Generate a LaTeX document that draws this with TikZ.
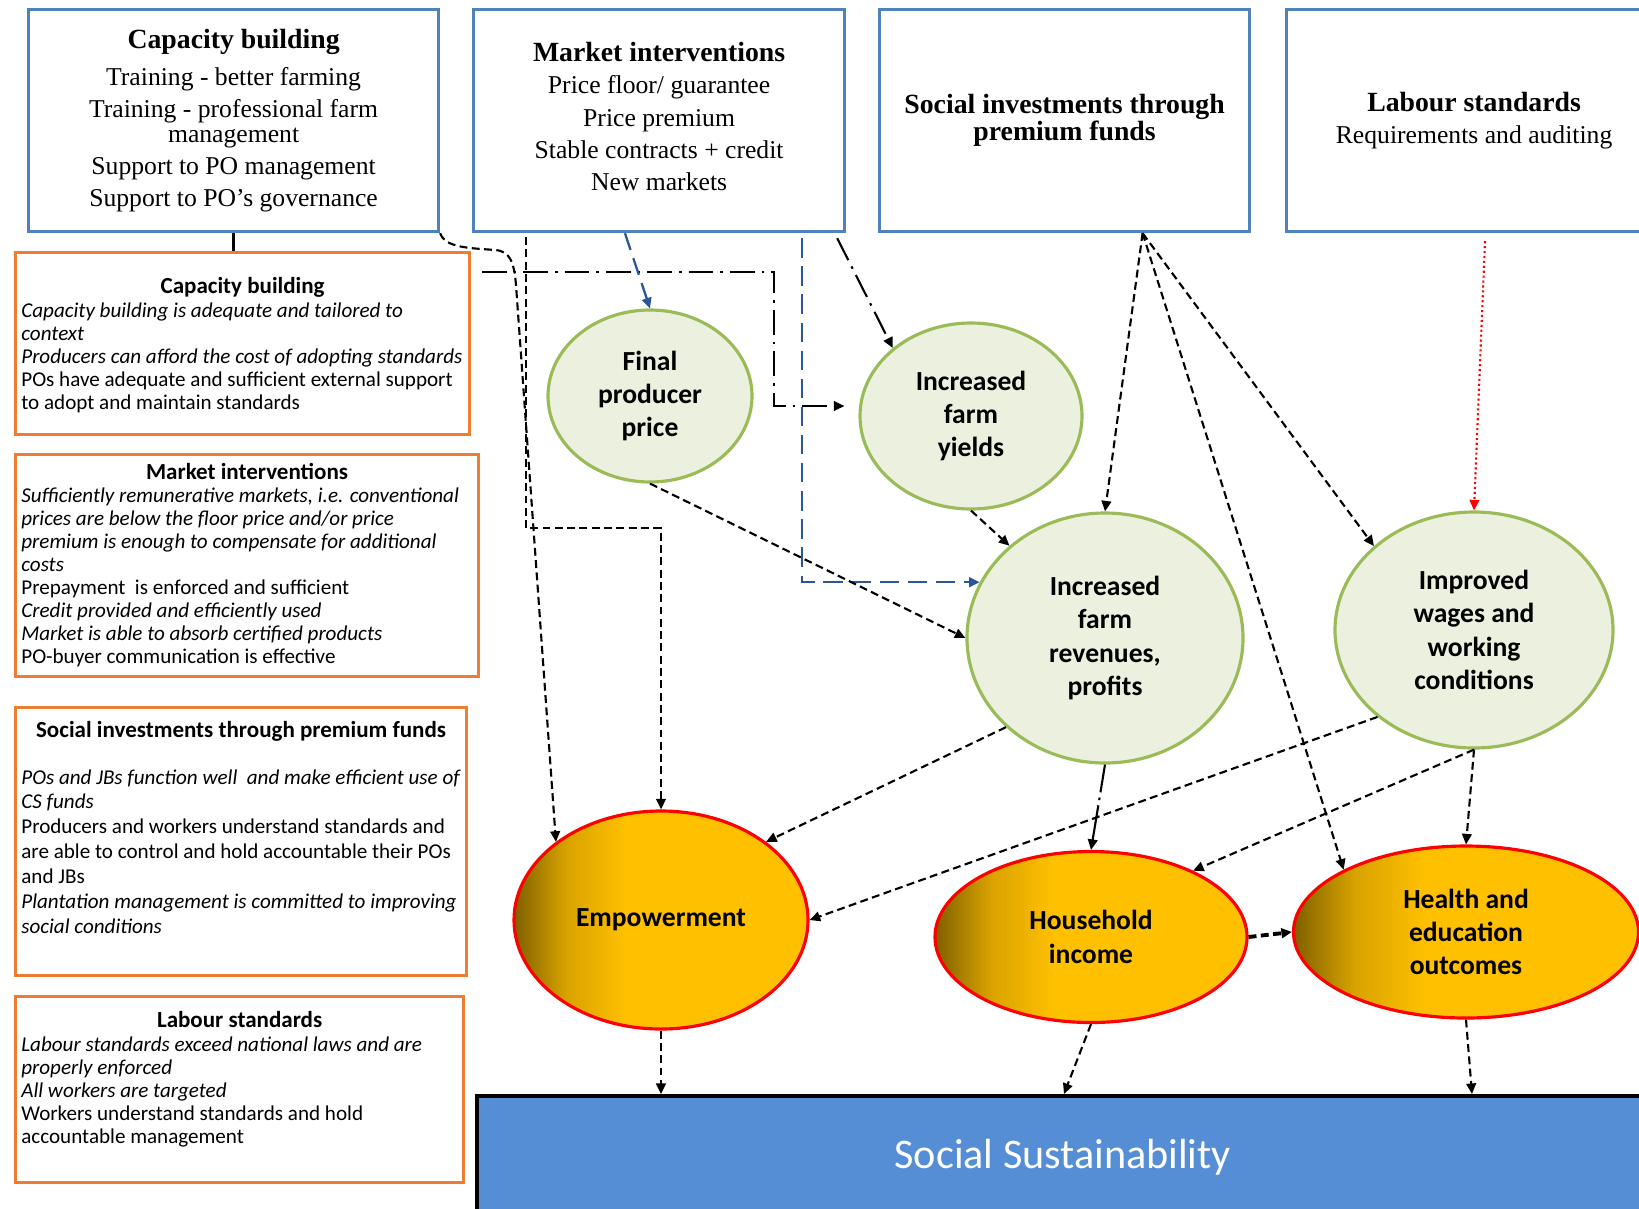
\documentclass[tikz,border=0pt]{standalone}
\usepackage{fontspec}
\setmainfont{Liberation Serif}
\newfontfamily\calib{Carlito}
\usetikzlibrary{positioning,arrows.meta,calc,shapes.geometric}
\definecolor{boxblue}{HTML}{4F81BD}
\definecolor{asmorange}{HTML}{ED7D31}
\definecolor{leafline}{HTML}{9BBB59}
\definecolor{leaffill}{HTML}{EBF1DE}
\definecolor{gold}{HTML}{FFC000}
\definecolor{golddark}{HTML}{7F6000}
\definecolor{goldmid}{HTML}{D9A300}
\definecolor{sustblue}{HTML}{558ED5}
\definecolor{linkblue}{HTML}{2B579A}
\pgfdeclarehorizontalshading{goldshade}{100bp}{color(0bp)=(golddark); color(25bp)=(golddark); color(34bp)=(goldmid); color(44bp)=(gold); color(100bp)=(gold)}
\newcommand\headfont{\bfseries\fontsize{15.8}{13.7}\selectfont}

\begin{document}
\begin{tikzpicture}[x=0.2mm,y=-0.2mm,
  topbox/.style={draw=boxblue, line width=1.8pt, fill=white, anchor=north west, align=center,
                 inner sep=0pt, minimum height=44.4mm, font=\fontsize{14.6}{13.7}\selectfont},
  asm/.style={draw=asmorange, line width=1.8pt, fill=white, anchor=north west, inner sep=0pt},
  asmtitle/.style={inner sep=0pt, text height=9.5pt, text depth=2.7pt,
                   font=\calib\bfseries\fontsize{13.1}{15}\selectfont},
  asmbody/.style={anchor=north west, align=left, inner sep=0pt,
                  font=\calib\fontsize{12}{13.1}\selectfont},
  leaf/.style={ellipse, draw=leafline, fill=leaffill, line width=1.8pt, inner sep=0pt, align=center,
               font=\calib\bfseries\fontsize{15.7}{19}\selectfont},
  fruit/.style={ellipse, draw=red, line width=1.8pt, shade, shading=goldshade, inner sep=0pt,
                align=center, font=\calib\bfseries\fontsize{15.7}{19}\selectfont},
  tip/.style={-{Triangle[length=6pt,width=5.5pt]}},
  dsh/.style={tip, line width=1.2pt, dash pattern=on 4.5pt off 2.5pt},
  dshdot/.style={tip, line width=1.2pt, dash pattern=on 14pt off 4pt on 1.5pt off 4pt},
  bluedsh/.style={tip, draw=linkblue, line width=1.3pt, dash pattern=on 10pt off 5pt},
  reddot/.style={tip, draw=red, line width=1.2pt, dash pattern=on 1.2pt off 1.6pt},
]
  \useasboundingbox (0,0) rectangle (1639,1208);
  \clip (0,0) rectangle (1639,1208);

  % Interventions
  \node[topbox, minimum width=82mm] (CB) at (27,8)
    {{\headfont Capacity building}\\[6.5pt] Training - better farming\\[4.7pt]
     Training - professional farm\\ management\\[4.7pt] Support to PO management\\[4.7pt]
     Support to PO’s governance};
  \node[topbox, minimum width=74.2mm] (MI) at (472,8)
    {{\headfont Market interventions}\\[4.6pt] Price floor/ guarantee\\[4.6pt] Price premium\\[4.6pt]
     Stable contracts + credit\\[4.6pt] New markets\\[-8.9pt]};
  \node[topbox, minimum width=74mm] (SI) at (878,8)
    {{\headfont Social investments through}\\ {\headfont premium funds}};
  \node[topbox, minimum width=75mm] (LS) at (1285,8)
    {{\headfont Labour standards}\\[5pt] Requirements and auditing};

  % Assumptions
  \node[asm, minimum width=90.8mm, minimum height=36.4mm] (aCB) at (14,251) {};
  \node[asmtitle] (aCBt) at ($(aCB.north)+(0,37)$) {Capacity building};
  \node[asmbody] (aCBb) at ($(aCB.north west)+(7,51)$)
    {\textit{Capacity building is adequate and tailored to}\\ \textit{context}\\
     \textit{Producers can afford the cost of adopting standards}\\
     POs have adequate and sufficient external support\\ to adopt and maintain standards};

  \node[asm, minimum width=92.6mm, minimum height=44.4mm] (aMI) at (14,453) {};
  \node[asmtitle] (aMIt) at ($(aMI.north)+(0,21)$) {Market interventions};
  \node[asmbody] (aMIb) at ($(aMI.north west)+(7,34)$)
    {\textit{Sufficiently remunerative markets, i.e. conventional}\\
     \textit{prices are below the floor price and/or price}\\
     \textit{premium is enough to compensate for additional}\\ \textit{costs}\\
     Prepayment\ \ is enforced and sufficient\\ \textit{Credit provided and efficiently used}\\
     \textit{Market is able to absorb certified products}\\ PO-buyer communication is effective};

  \node[asm, minimum width=90.2mm, minimum height=53.6mm] (aSI) at (14,706) {};
  \node[asmtitle] (aSIt) at ($(aSI.north)+(0,26)$) {Social investments through premium funds};
  \node[asmbody, font=\calib\fontsize{12}{14.2}\selectfont] (aSIb) at ($(aSI.north west)+(7,63)$)
    {\textit{POs and JBs function well\ \ and make efficient use of}\\ \textit{CS funds}\\
     Producers and workers understand standards and\\
     are able to control and hold accountable their POs\\ and JBs\\
     \textit{Plantation management is committed to improving}\\ \textit{social conditions}};

  \node[asm, minimum width=89.6mm, minimum height=37.2mm] (aLS) at (14,995) {};
  \node[asmtitle] (aLSt) at ($(aLS.north)+(0,27)$) {Labour standards};
  \node[asmbody] (aLSb) at ($(aLS.north west)+(7,41)$)
    {\textit{Labour standards exceed national laws and are}\\ \textit{properly enforced}\\
     \textit{All workers are targeted}\\ Workers understand standards and hold\\
     accountable management};

  % Intermediate outcomes
  \node[leaf, minimum width=40.8mm, minimum height=34.4mm] (FPP) at (650,396) {Final\\producer\\price};
  \node[leaf, minimum width=44.4mm, minimum height=37.2mm] (IFY) at (971,416) {Increased\\farm\\yields};
  \node[leaf, minimum width=55.2mm, minimum height=50mm] (IFR) at (1105,638)
    {Increased\\farm\\revenues,\\profits};
  \node[leaf, minimum width=55.6mm, minimum height=47.2mm] (IWC) at (1474,630)
    {Improved\\wages and\\working\\conditions};

  % Outcomes
  \node[fruit, minimum width=58.8mm, minimum height=43.6mm] (EMP) at (661,920) {Empowerment};
  \node[fruit, minimum width=62.4mm, minimum height=34.2mm] (HHI) at (1091,937) {Household\\income};
  \node[fruit, minimum width=69mm, minimum height=34.4mm] (HEO) at (1466,932)
    {Health and\\education\\outcomes};

  % Impact
  \node[draw=black, line width=2pt, fill=sustblue, anchor=north west, minimum width=234.4mm,
        minimum height=24.4mm, text=white, font=\calib\fontsize{24}{28}\selectfont] (SS) at (475,1094)
    {Social Sustainability};

  % Links from interventions
  \draw[line width=1.5pt] (CB.south) -- (CB.south |- aCB.north);
  \draw[dsh] (CB.south east) .. controls (445,248) and (470,248) .. (495,250)
    .. controls (510,251) and (514,262) .. (516,285) -- (EMP.north west);
  \draw[dsh] ($(MI.south west)+(54,4)$) -- ++(0,291) -| (EMP.north);
  \draw[dshdot] ($(aCB.north east)+(11,21)$) -| ($(IFY.west)+(-84,-10)$) -- ($(IFY.west)+(-14,-10)$);
  \draw[bluedsh] ($(MI.south west)+(153,0)$) -- (FPP.north);
  \draw[bluedsh, dash pattern=on 11pt off 5pt] ($(MI.south west)+(330,5)$) |- (IFR.156);
  \draw[dshdot] ($(MI.south east)+(-9,5)$) -- (IFY.139);
  \coordinate (si) at ($(SI.south)+(78,0)$);
  \draw[dsh] (si) -- (IFR.north);
  \draw[dsh] (si) -- (HEO.153);
  \draw[dsh] (si) -- (IWC.140);
  \draw[reddot] ($(LS.south west)+(200,8)$) -- (IWC.north);

  % Links between outcomes
  \draw[dsh] (FPP.south) -- (IFR.west);
  \draw[dsh] (IFY.south) -- (IFR.136);
  \draw[tip, line width=1.2pt, dash pattern=on 16pt off 3pt on 1.5pt off 3pt on 40pt off 0pt]
    (IFR.south) -- (HHI.north);
  \draw[dsh] (IFR.222) -- (EMP.north east);
  \draw[dsh] (IWC.222) -- (EMP.east);
  \draw[dsh] (IWC.south) -- (HHI.33);
  \draw[dsh] (IWC.south) -- (HEO.north);
  \draw[dsh, line width=2.2pt] (HHI.east) -- (HEO.west);
  \draw[dsh] (EMP.south) -- (EMP.south |- SS.north);
  \draw[dsh] (HHI.south) -- ($(SS.north west)+(589,0)$);
  \draw[dsh] (HEO.south) -- ($(SS.north west)+(997,0)$);
\end{tikzpicture}
\end{document}
